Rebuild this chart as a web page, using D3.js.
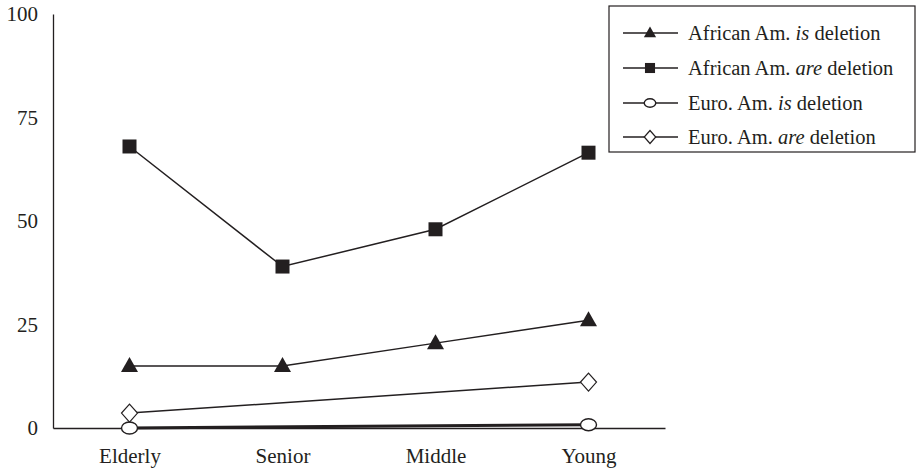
<!DOCTYPE html>
<html><head><meta charset="utf-8">
<script src="https://cdn.jsdelivr.net/npm/d3@7"></script>
</head><body style="margin:0;background:#fff">
<svg id="chart" width="923" height="470" font-family="Times New Roman, serif" style="display:block;font-family:'Times New Roman',serif"></svg>
<script>
const categories = ["Elderly","Senior","Middle","Young"];
const yTicks = [0,25,50,75,100];
const aaIs = [15, 15, 20.5, 26];
const aaAre = [68, 39, 48, 66.5];
const eaIs = [0, null, null, 0.8];
const eaAre = [3.6, null, null, 11.1];
const seriesNames = [["African Am. ","is"," deletion"],["African Am. ","are"," deletion"],["Euro. Am. ","is"," deletion"],["Euro. Am. ","are"," deletion"]];
const seriesData = [aaIs, aaAre, eaIs, eaAre];
const markerKinds = ["triangle","square","ellipse","diamond"];

const FONT = "'Times New Roman', serif";
const svg = d3.select("#chart");
const ink = "#231f20";
const x = d3.scalePoint().domain(categories).range([53,665]).padding(0.5);
const y = d3.scaleLinear().domain([0,100]).range([428,14]);

const yAxis = d3.axisLeft(y).tickValues(yTicks).tickSize(0).tickPadding(15);
const gy = svg.append("g").attr("transform","translate(53,0)").call(yAxis);
gy.attr("font-family", FONT).attr("font-size", 21);
gy.select(".domain").attr("stroke",ink).attr("stroke-width",1.3);
gy.selectAll(".tick text").attr("fill",ink).attr("font-family",FONT).style("font-family",FONT);

const xAxis = d3.axisBottom(x).tickSize(0).tickPadding(20);
const gx = svg.append("g").attr("transform","translate(0,428)").call(xAxis);
gx.attr("font-family", FONT).attr("font-size", 21);
gx.select(".domain").attr("stroke",ink).attr("stroke-width",1.3);
gx.selectAll(".tick text").attr("fill",ink).attr("font-family",FONT).style("font-family",FONT);

function marker(g, kind, cx, cy, s){
  if(kind==="triangle"){
    g.append("path").attr("d",`M${cx},${cy-9*s}L${cx+8.5*s},${cy+6*s}L${cx-8.5*s},${cy+6*s}Z`).attr("fill",ink);
  } else if(kind==="square"){
    g.append("rect").attr("x",cx-7*s).attr("y",cy-7*s).attr("width",14*s).attr("height",14*s).attr("fill",ink);
  } else if(kind==="ellipse"){
    g.append("ellipse").attr("cx",cx).attr("cy",cy).attr("rx",8*s).attr("ry",6*s).attr("fill","#fff").attr("stroke",ink).attr("stroke-width",1.4);
  } else {
    g.append("path").attr("d",`M${cx},${cy-9*s}L${cx+8*s},${cy}L${cx},${cy+9*s}L${cx-8*s},${cy}Z`).attr("fill","#fff").attr("stroke",ink).attr("stroke-width",1.2);
  }
}

const line = d3.line().x(d=>x(d.c)).y(d=>y(d.v));
seriesData.forEach((vals,i)=>{
  const pts = categories.map((c,j)=>({c, v: vals[j]})).filter(d=>d.v!==null);
  svg.append("path").datum(pts).attr("d",line).attr("fill","none").attr("stroke",ink)
    .attr("stroke-width", i===2 ? 3 : 1.5);
});
seriesData.forEach((vals,i)=>{
  const g = svg.append("g");
  categories.forEach((c,j)=>{ if(vals[j]!==null) marker(g, markerKinds[i], x(c), y(vals[j]), 1); });
});

const lg = svg.append("g").attr("font-family", FONT).attr("font-size", 20.5);
lg.append("rect").attr("x",609).attr("y",6).attr("width",306).attr("height",146).attr("fill","#fff").attr("stroke",ink).attr("stroke-width",1.2);
const rowsY = [33,68,103,137];
seriesNames.forEach((nm,i)=>{
  const ry = rowsY[i];
  lg.append("line").attr("x1",623).attr("x2",678).attr("y1",ry).attr("y2",ry).attr("stroke",ink).attr("stroke-width",1.3);
  marker(lg, markerKinds[i], 650, ry, 0.72);
  const t = lg.append("text").attr("x",688).attr("y",ry).attr("dy","0.33em").attr("fill",ink).attr("font-family",FONT).style("font-family",FONT);
  t.append("tspan").text(nm[0]);
  t.append("tspan").attr("font-style","italic").text(nm[1]);
  t.append("tspan").text(nm[2]);
});
</script></body></html>
